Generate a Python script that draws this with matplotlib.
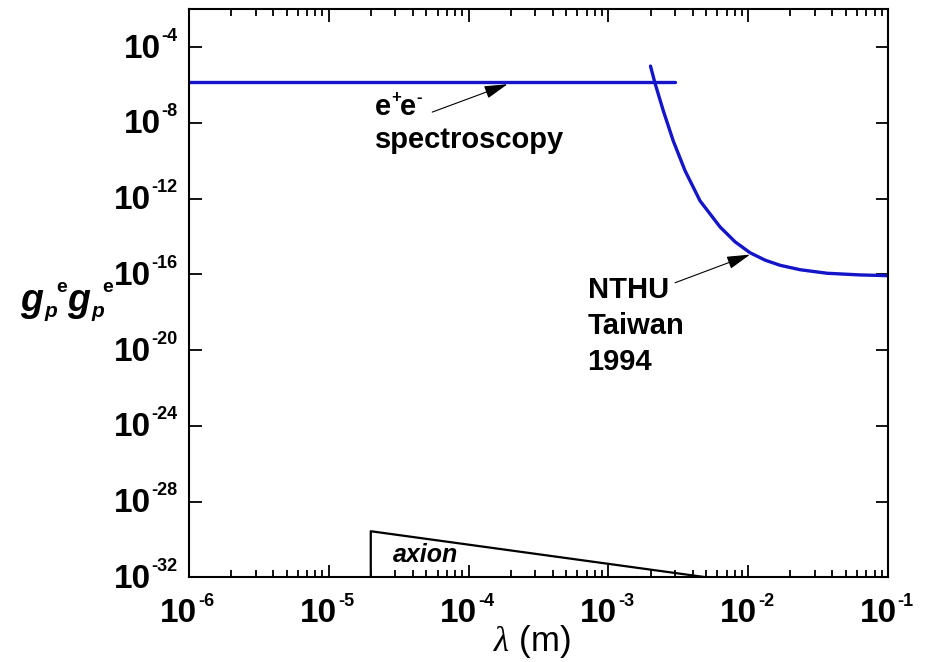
import numpy as np
import matplotlib
matplotlib.use('Agg')
import matplotlib.pyplot as plt
import matplotlib.ticker as ticker
import matplotlib.transforms as mtransforms

plt.rcParams['font.family'] = ['Liberation Sans', 'DejaVu Sans']
plt.rcParams['mathtext.fontset'] = 'custom'
plt.rcParams['mathtext.rm'] = 'Liberation Sans'
plt.rcParams['mathtext.it'] = 'Liberation Serif:italic'

# e+e- spectroscopy limit (flat)
spec_lam = [1e-6, 3e-3]
spec_g = [1.5e-6, 1.5e-6]

# NTHU Taiwan 1994 limit
nthu_lam = [2.0e-3, 2.15e-3, 2.47e-3, 2.91e-3, 3.53e-3, 4.52e-3, 6.28e-3,
            8.05e-3, 1.03e-2, 1.32e-2, 1.69e-2, 2.35e-2, 3.66e-2, 6.3e-2, 1e-1]
nthu_g = [1e-5, 1.3e-6, 4.3e-8, 1.1e-9, 3.0e-11, 7.6e-13, 3.2e-14,
          5.2e-15, 1.38e-15, 5.6e-16, 3.0e-16, 1.75e-16, 1.14e-16, 9.3e-17, 8.5e-17]

# axion region
axion_lam = [2e-5, 2e-5, 5e-3]
axion_g = [1e-32, 2.7e-30, 1e-32]

x_ticks = [1e-6, 1e-5, 1e-4, 1e-3, 1e-2, 1e-1]
y_ticks = [1e-32, 1e-28, 1e-24, 1e-20, 1e-16, 1e-12, 1e-8, 1e-4]

blue = '#1414c8'
bold = dict(fontweight='bold')

fig = plt.figure(figsize=(9.3, 6.62), dpi=100)
ax = fig.add_axes([0.203, 0.128, 0.752, 0.858])

ax.plot(spec_lam, spec_g, color=blue, lw=2.4, solid_capstyle='round')
ax.plot(nthu_lam, nthu_g, color=blue, lw=2.4, solid_capstyle='round')
ax.plot(axion_lam, axion_g, color='black', lw=1.6)

ax.set_xscale('log')
ax.set_yscale('log')
ax.set_xlim(1e-6, 1e-1)
ax.set_ylim(1e-32, 1e-2)

ax.xaxis.set_major_locator(ticker.FixedLocator(x_ticks))
ax.xaxis.set_minor_locator(ticker.LogLocator(base=10, subs=np.arange(2, 10), numticks=20))
ax.yaxis.set_major_locator(ticker.FixedLocator(y_ticks))
ax.yaxis.set_minor_locator(ticker.NullLocator())
ax.xaxis.set_major_formatter(ticker.NullFormatter())
ax.xaxis.set_minor_formatter(ticker.NullFormatter())
ax.yaxis.set_major_formatter(ticker.NullFormatter())

ax.tick_params(which='both', direction='in', top=True, right=True, width=1.3)
ax.tick_params(which='major', length=9)
ax.tick_params(which='minor', length=5)
for s in ax.spines.values():
    s.set_linewidth(1.5)

# tick labels as "10" with a small raised exponent
xtr = mtransforms.blended_transform_factory(ax.transData, ax.transAxes)
ytr = mtransforms.blended_transform_factory(ax.transAxes, ax.transData)
for v in x_ticks:
    base = ax.annotate('10', xy=(v, 0), xycoords=xtr, xytext=(-10, -36),
                       textcoords='offset pixels', ha='center', va='center',
                       fontsize=24, **bold)
    ax.annotate('-%d' % -round(np.log10(v)), xy=(1, 0.5), xycoords=base,
                xytext=(1, 12), textcoords='offset pixels', ha='left', va='center',
                fontsize=13, **bold)
for v in y_ticks:
    sup = ax.annotate('-%d' % -round(np.log10(v)), xy=(0, v), xycoords=ytr,
                      xytext=(-11, 11), textcoords='offset pixels', ha='right',
                      va='center', fontsize=13, **bold)
    ax.annotate('10', xy=(0, 0.5), xycoords=sup, xytext=(-1, -13),
                textcoords='offset pixels', ha='right', va='center',
                fontsize=24, **bold)

# axis labels
fig.text(532 / 930, 1 - 641 / 662, r'$\mathit{\lambda}$ (m)', fontsize=25,
         ha='center', va='center')
ylab = [('g', 20, 311, 27, 'italic'), ('p', 44, 317, 15, 'italic'),
        ('e', 56, 292, 14, 'normal'), ('g', 67, 311, 27, 'italic'),
        ('p', 91, 317, 15, 'italic'), ('e', 102, 292, 14, 'normal')]
for s, px, py, fs, st in ylab:
    fig.text(px / 930, 1 - py / 662, s, fontsize=fs, style=st, ha='left',
             va='baseline', **bold)

# annotations
arrow = dict(arrowstyle='-|>,head_length=0.8,head_width=0.22', color='black',
             lw=0.8, mutation_scale=18, shrinkA=0, shrinkB=0)
ax.annotate('', xy=(1.9e-4, 1.1e-6), xytext=(5.5e-5, 3.7e-8), arrowprops=arrow)
e1 = ax.text(2.15e-5, 7e-8, 'e', fontsize=21, ha='left', va='center', **bold)
ax.annotate('+', xy=(1, 1), xycoords=e1, xytext=(0, -5),
            textcoords='offset pixels', ha='left', va='center', fontsize=12, **bold)
e2 = ax.annotate('e', xy=(1, 0), xycoords=e1, xytext=(9, 0),
                 textcoords='offset pixels', ha='left', va='bottom', fontsize=21, **bold)
ax.annotate('-', xy=(1, 1), xycoords=e2, xytext=(0, -5),
            textcoords='offset pixels', ha='left', va='center', fontsize=12, **bold)
ax.text(2.15e-5, 1.2e-9, 'spectroscopy', fontsize=21, ha='left', va='center', **bold)

ax.annotate('', xy=(1.03e-2, 1.1e-15), xytext=(3.0e-3, 3.6e-17), arrowprops=arrow)
ax.text(7.1e-4, 8.5e-17, 'NTHU\nTaiwan\n1994', fontsize=21, ha='left', va='top',
        linespacing=1.38, **bold)

ax.text(2.9e-5, 1.5e-31, 'axion', fontsize=18, style='italic', ha='left',
        va='center', **bold)

fig.savefig('out.png', dpi=100)
